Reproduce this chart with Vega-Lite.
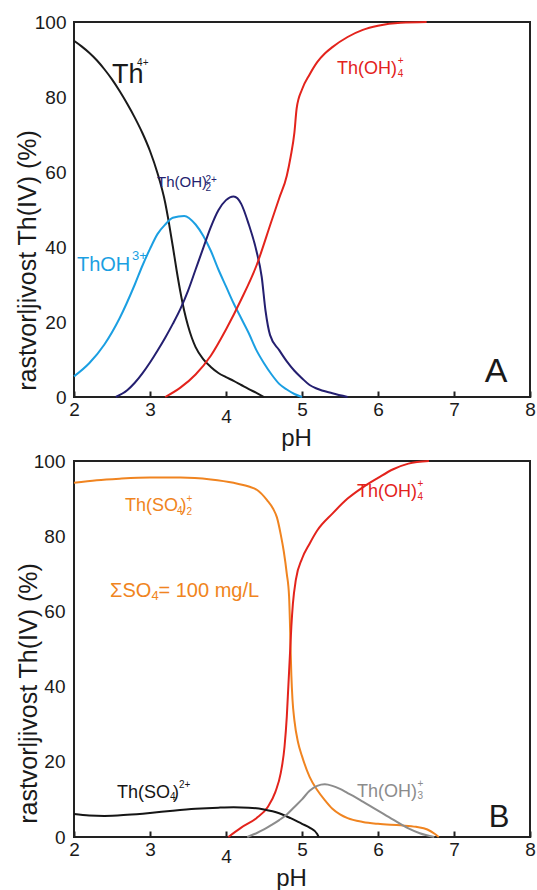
{
  "$schema": "https://vega.github.io/schema/vega-lite/v6.json",
  "background": "white",
  "padding": {"left": 14, "top": 12, "right": 4, "bottom": 0},
  "bounds": "flush",
  "spacing": 64,
  "resolve": {"scale": {"color": "independent"}},
  "config": {
    "font": "Liberation Sans",
    "view": {"stroke": "#222222", "strokeWidth": 2},
    "axis": {"domain": false, "grid": false, "labelFont": "Liberation Sans", "labelFontSize": 19, "labelColor": "#1a1a1a", "titleFont": "Liberation Sans", "titleFontWeight": "normal", "titleColor": "#1a1a1a", "labelFlush": false, "labelOverlap": false, "format": "d"},
    "text": {"font": "Liberation Sans", "align": "left", "baseline": "alphabetic"}
  },
  "datasets": {
    "linesA": [
      {"species": "Th4+", "pH": 2.0, "pct": 95}, {"species": "Th4+", "pH": 2.1, "pct": 93.5}, {"species": "Th4+", "pH": 2.2, "pct": 91.8}, {"species": "Th4+", "pH": 2.3, "pct": 89.8}, {"species": "Th4+", "pH": 2.4, "pct": 87.4}, {"species": "Th4+", "pH": 2.5, "pct": 84.7}, {"species": "Th4+", "pH": 2.6, "pct": 81.6}, {"species": "Th4+", "pH": 2.7, "pct": 78.2}, {"species": "Th4+", "pH": 2.8, "pct": 74.5}, {"species": "Th4+", "pH": 2.9, "pct": 70.4}, {"species": "Th4+", "pH": 3.0, "pct": 65.6}, {"species": "Th4+", "pH": 3.1, "pct": 59.6}, {"species": "Th4+", "pH": 3.2, "pct": 51.8}, {"species": "Th4+", "pH": 3.25, "pct": 46.3}, {"species": "Th4+", "pH": 3.3, "pct": 40.2}, {"species": "Th4+", "pH": 3.35, "pct": 33.8}, {"species": "Th4+", "pH": 3.4, "pct": 28}, {"species": "Th4+", "pH": 3.45, "pct": 23}, {"species": "Th4+", "pH": 3.5, "pct": 19}, {"species": "Th4+", "pH": 3.55, "pct": 15.8}, {"species": "Th4+", "pH": 3.6, "pct": 13.3}, {"species": "Th4+", "pH": 3.7, "pct": 10.1}, {"species": "Th4+", "pH": 3.8, "pct": 8}, {"species": "Th4+", "pH": 3.9, "pct": 6.4}, {"species": "Th4+", "pH": 4.0, "pct": 5.3}, {"species": "Th4+", "pH": 4.1, "pct": 4.3}, {"species": "Th4+", "pH": 4.2, "pct": 3.2}, {"species": "Th4+", "pH": 4.3, "pct": 2.1}, {"species": "Th4+", "pH": 4.4, "pct": 1.1}, {"species": "Th4+", "pH": 4.5, "pct": 0},
      {"species": "ThOH3+", "pH": 2.0, "pct": 5.5}, {"species": "ThOH3+", "pH": 2.2, "pct": 9}, {"species": "ThOH3+", "pH": 2.4, "pct": 14}, {"species": "ThOH3+", "pH": 2.6, "pct": 21}, {"species": "ThOH3+", "pH": 2.8, "pct": 30}, {"species": "ThOH3+", "pH": 2.9, "pct": 35}, {"species": "ThOH3+", "pH": 3.0, "pct": 39.5}, {"species": "ThOH3+", "pH": 3.1, "pct": 43.5}, {"species": "ThOH3+", "pH": 3.2, "pct": 46}, {"species": "ThOH3+", "pH": 3.3, "pct": 47.8}, {"species": "ThOH3+", "pH": 3.45, "pct": 48.3}, {"species": "ThOH3+", "pH": 3.6, "pct": 46}, {"species": "ThOH3+", "pH": 3.7, "pct": 43}, {"species": "ThOH3+", "pH": 3.8, "pct": 39}, {"species": "ThOH3+", "pH": 3.9, "pct": 34}, {"species": "ThOH3+", "pH": 4.0, "pct": 29.5}, {"species": "ThOH3+", "pH": 4.1, "pct": 25}, {"species": "ThOH3+", "pH": 4.2, "pct": 21}, {"species": "ThOH3+", "pH": 4.3, "pct": 17}, {"species": "ThOH3+", "pH": 4.4, "pct": 12.5}, {"species": "ThOH3+", "pH": 4.5, "pct": 9}, {"species": "ThOH3+", "pH": 4.6, "pct": 6}, {"species": "ThOH3+", "pH": 4.7, "pct": 3.5}, {"species": "ThOH3+", "pH": 4.8, "pct": 2}, {"species": "ThOH3+", "pH": 4.9, "pct": 0.8}, {"species": "ThOH3+", "pH": 5.0, "pct": 0},
      {"species": "Th(OH)2 2+", "pH": 2.55, "pct": 0}, {"species": "Th(OH)2 2+", "pH": 2.7, "pct": 1.8}, {"species": "Th(OH)2 2+", "pH": 2.8, "pct": 3.8}, {"species": "Th(OH)2 2+", "pH": 2.9, "pct": 6.3}, {"species": "Th(OH)2 2+", "pH": 3.0, "pct": 9.2}, {"species": "Th(OH)2 2+", "pH": 3.1, "pct": 12.4}, {"species": "Th(OH)2 2+", "pH": 3.2, "pct": 15.8}, {"species": "Th(OH)2 2+", "pH": 3.3, "pct": 19.5}, {"species": "Th(OH)2 2+", "pH": 3.4, "pct": 23.5}, {"species": "Th(OH)2 2+", "pH": 3.5, "pct": 28.3}, {"species": "Th(OH)2 2+", "pH": 3.6, "pct": 34}, {"species": "Th(OH)2 2+", "pH": 3.7, "pct": 39.7}, {"species": "Th(OH)2 2+", "pH": 3.8, "pct": 45.3}, {"species": "Th(OH)2 2+", "pH": 3.9, "pct": 49.8}, {"species": "Th(OH)2 2+", "pH": 4.0, "pct": 52.5}, {"species": "Th(OH)2 2+", "pH": 4.1, "pct": 53.5}, {"species": "Th(OH)2 2+", "pH": 4.15, "pct": 53}, {"species": "Th(OH)2 2+", "pH": 4.2, "pct": 51.5}, {"species": "Th(OH)2 2+", "pH": 4.3, "pct": 46}, {"species": "Th(OH)2 2+", "pH": 4.4, "pct": 39}, {"species": "Th(OH)2 2+", "pH": 4.47, "pct": 32}, {"species": "Th(OH)2 2+", "pH": 4.52, "pct": 23}, {"species": "Th(OH)2 2+", "pH": 4.58, "pct": 16.5}, {"species": "Th(OH)2 2+", "pH": 4.7, "pct": 12.5}, {"species": "Th(OH)2 2+", "pH": 4.8, "pct": 9.5}, {"species": "Th(OH)2 2+", "pH": 4.9, "pct": 7}, {"species": "Th(OH)2 2+", "pH": 5.0, "pct": 5}, {"species": "Th(OH)2 2+", "pH": 5.1, "pct": 3.2}, {"species": "Th(OH)2 2+", "pH": 5.2, "pct": 2.2}, {"species": "Th(OH)2 2+", "pH": 5.4, "pct": 1}, {"species": "Th(OH)2 2+", "pH": 5.6, "pct": 0},
      {"species": "Th(OH)4+", "pH": 3.2, "pct": 0}, {"species": "Th(OH)4+", "pH": 3.4, "pct": 2.5}, {"species": "Th(OH)4+", "pH": 3.6, "pct": 6}, {"species": "Th(OH)4+", "pH": 3.8, "pct": 11}, {"species": "Th(OH)4+", "pH": 4.0, "pct": 18}, {"species": "Th(OH)4+", "pH": 4.2, "pct": 26}, {"species": "Th(OH)4+", "pH": 4.4, "pct": 35}, {"species": "Th(OH)4+", "pH": 4.6, "pct": 47}, {"species": "Th(OH)4+", "pH": 4.7, "pct": 53}, {"species": "Th(OH)4+", "pH": 4.8, "pct": 59}, {"species": "Th(OH)4+", "pH": 4.85, "pct": 64}, {"species": "Th(OH)4+", "pH": 4.9, "pct": 70.5}, {"species": "Th(OH)4+", "pH": 4.93, "pct": 77}, {"species": "Th(OH)4+", "pH": 5.0, "pct": 82}, {"species": "Th(OH)4+", "pH": 5.1, "pct": 86}, {"species": "Th(OH)4+", "pH": 5.2, "pct": 89.3}, {"species": "Th(OH)4+", "pH": 5.3, "pct": 91.6}, {"species": "Th(OH)4+", "pH": 5.4, "pct": 93.3}, {"species": "Th(OH)4+", "pH": 5.6, "pct": 96}, {"species": "Th(OH)4+", "pH": 5.8, "pct": 97.9}, {"species": "Th(OH)4+", "pH": 6.0, "pct": 99}, {"species": "Th(OH)4+", "pH": 6.3, "pct": 99.8}, {"species": "Th(OH)4+", "pH": 6.64, "pct": 100}
    ],
    "labelsA": [
      {"species": "Th4+", "role": "big", "text": "Th", "pH": 2.5, "pct": 83.7},
      {"species": "Th4+", "role": "script", "text": "4+", "pH": 2.83, "pct": 88.3},
      {"species": "Th(OH)2 2+", "role": "narrow", "text": "Th(OH)", "pH": 3.092, "pct": 56.0},
      {"species": "Th(OH)2 2+", "role": "script", "text": "2+", "pH": 3.73, "pct": 57.1},
      {"species": "Th(OH)2 2+", "role": "script", "text": "2", "pH": 3.73, "pct": 55.0},
      {"species": "ThOH3+", "role": "mid", "text": "ThOH", "pH": 2.039, "pct": 33.6},
      {"species": "ThOH3+", "role": "scriptL", "text": "3+", "pH": 2.763, "pct": 36.5},
      {"species": "Th(OH)4+", "role": "ion", "text": "Th(OH)", "pH": 5.461, "pct": 86.1},
      {"species": "Th(OH)4+", "role": "script", "text": "+", "pH": 6.26, "pct": 88.8},
      {"species": "Th(OH)4+", "role": "script", "text": "4", "pH": 6.26, "pct": 85.3}
    ],
    "panelA": [{"text": "A", "pH": 7.553, "pct": 4.0}],
    "linesB": [
      {"species": "Th(SO4)2", "pH": 2.0, "pct": 94.2}, {"species": "Th(SO4)2", "pH": 2.3, "pct": 94.9}, {"species": "Th(SO4)2", "pH": 2.6, "pct": 95.3}, {"species": "Th(SO4)2", "pH": 3.0, "pct": 95.6}, {"species": "Th(SO4)2", "pH": 3.4, "pct": 95.6}, {"species": "Th(SO4)2", "pH": 3.8, "pct": 95.1}, {"species": "Th(SO4)2", "pH": 4.1, "pct": 94.2}, {"species": "Th(SO4)2", "pH": 4.3, "pct": 93.2}, {"species": "Th(SO4)2", "pH": 4.41, "pct": 92.3}, {"species": "Th(SO4)2", "pH": 4.54, "pct": 89.6}, {"species": "Th(SO4)2", "pH": 4.62, "pct": 87.3}, {"species": "Th(SO4)2", "pH": 4.67, "pct": 85}, {"species": "Th(SO4)2", "pH": 4.72, "pct": 80.5}, {"species": "Th(SO4)2", "pH": 4.76, "pct": 76}, {"species": "Th(SO4)2", "pH": 4.8, "pct": 70}, {"species": "Th(SO4)2", "pH": 4.83, "pct": 64}, {"species": "Th(SO4)2", "pH": 4.84, "pct": 58}, {"species": "Th(SO4)2", "pH": 4.85, "pct": 50}, {"species": "Th(SO4)2", "pH": 4.86, "pct": 43}, {"species": "Th(SO4)2", "pH": 4.875, "pct": 36.5}, {"species": "Th(SO4)2", "pH": 4.9, "pct": 31}, {"species": "Th(SO4)2", "pH": 4.95, "pct": 25}, {"species": "Th(SO4)2", "pH": 5.0, "pct": 21.5}, {"species": "Th(SO4)2", "pH": 5.1, "pct": 16}, {"species": "Th(SO4)2", "pH": 5.2, "pct": 12.5}, {"species": "Th(SO4)2", "pH": 5.3, "pct": 9.8}, {"species": "Th(SO4)2", "pH": 5.4, "pct": 7.5}, {"species": "Th(SO4)2", "pH": 5.5, "pct": 6}, {"species": "Th(SO4)2", "pH": 5.6, "pct": 5}, {"species": "Th(SO4)2", "pH": 5.8, "pct": 4}, {"species": "Th(SO4)2", "pH": 6.0, "pct": 3.5}, {"species": "Th(SO4)2", "pH": 6.3, "pct": 3.1}, {"species": "Th(SO4)2", "pH": 6.5, "pct": 2.7}, {"species": "Th(SO4)2", "pH": 6.65, "pct": 2}, {"species": "Th(SO4)2", "pH": 6.75, "pct": 0.8}, {"species": "Th(SO4)2", "pH": 6.8, "pct": 0},
      {"species": "Th(OH)4+", "pH": 4.03, "pct": 0}, {"species": "Th(OH)4+", "pH": 4.2, "pct": 2.5}, {"species": "Th(OH)4+", "pH": 4.4, "pct": 5}, {"species": "Th(OH)4+", "pH": 4.55, "pct": 8}, {"species": "Th(OH)4+", "pH": 4.65, "pct": 12}, {"species": "Th(OH)4+", "pH": 4.72, "pct": 17}, {"species": "Th(OH)4+", "pH": 4.77, "pct": 24}, {"species": "Th(OH)4+", "pH": 4.8, "pct": 32}, {"species": "Th(OH)4+", "pH": 4.82, "pct": 40}, {"species": "Th(OH)4+", "pH": 4.84, "pct": 48}, {"species": "Th(OH)4+", "pH": 4.86, "pct": 56}, {"species": "Th(OH)4+", "pH": 4.88, "pct": 62}, {"species": "Th(OH)4+", "pH": 4.92, "pct": 68.5}, {"species": "Th(OH)4+", "pH": 5.0, "pct": 74}, {"species": "Th(OH)4+", "pH": 5.1, "pct": 78}, {"species": "Th(OH)4+", "pH": 5.2, "pct": 81.5}, {"species": "Th(OH)4+", "pH": 5.4, "pct": 86}, {"species": "Th(OH)4+", "pH": 5.6, "pct": 90}, {"species": "Th(OH)4+", "pH": 5.8, "pct": 93}, {"species": "Th(OH)4+", "pH": 6.0, "pct": 95.5}, {"species": "Th(OH)4+", "pH": 6.2, "pct": 97.8}, {"species": "Th(OH)4+", "pH": 6.4, "pct": 99.3}, {"species": "Th(OH)4+", "pH": 6.67, "pct": 100},
      {"species": "ThSO4 2+", "pH": 2.0, "pct": 6.1}, {"species": "ThSO4 2+", "pH": 2.2, "pct": 5.7}, {"species": "ThSO4 2+", "pH": 2.4, "pct": 5.6}, {"species": "ThSO4 2+", "pH": 2.7, "pct": 5.9}, {"species": "ThSO4 2+", "pH": 3.0, "pct": 6.4}, {"species": "ThSO4 2+", "pH": 3.3, "pct": 7}, {"species": "ThSO4 2+", "pH": 3.6, "pct": 7.5}, {"species": "ThSO4 2+", "pH": 3.9, "pct": 7.8}, {"species": "ThSO4 2+", "pH": 4.1, "pct": 7.9}, {"species": "ThSO4 2+", "pH": 4.3, "pct": 7.8}, {"species": "ThSO4 2+", "pH": 4.5, "pct": 7.3}, {"species": "ThSO4 2+", "pH": 4.7, "pct": 6.3}, {"species": "ThSO4 2+", "pH": 4.85, "pct": 5}, {"species": "ThSO4 2+", "pH": 5.0, "pct": 3.5}, {"species": "ThSO4 2+", "pH": 5.1, "pct": 2.5}, {"species": "ThSO4 2+", "pH": 5.2, "pct": 0.8}, {"species": "ThSO4 2+", "pH": 5.22, "pct": 0},
      {"species": "Th(OH)3+", "pH": 4.28, "pct": 0}, {"species": "Th(OH)3+", "pH": 4.4, "pct": 1}, {"species": "Th(OH)3+", "pH": 4.5, "pct": 2}, {"species": "Th(OH)3+", "pH": 4.6, "pct": 3.2}, {"species": "Th(OH)3+", "pH": 4.7, "pct": 4.5}, {"species": "Th(OH)3+", "pH": 4.8, "pct": 6}, {"species": "Th(OH)3+", "pH": 4.9, "pct": 8}, {"species": "Th(OH)3+", "pH": 5.0, "pct": 10}, {"species": "Th(OH)3+", "pH": 5.1, "pct": 12.3}, {"species": "Th(OH)3+", "pH": 5.2, "pct": 13.6}, {"species": "Th(OH)3+", "pH": 5.3, "pct": 14}, {"species": "Th(OH)3+", "pH": 5.4, "pct": 13.6}, {"species": "Th(OH)3+", "pH": 5.5, "pct": 12.8}, {"species": "Th(OH)3+", "pH": 5.6, "pct": 11.7}, {"species": "Th(OH)3+", "pH": 5.7, "pct": 10.6}, {"species": "Th(OH)3+", "pH": 5.8, "pct": 9.4}, {"species": "Th(OH)3+", "pH": 5.9, "pct": 8.2}, {"species": "Th(OH)3+", "pH": 6.0, "pct": 7}, {"species": "Th(OH)3+", "pH": 6.2, "pct": 4.6}, {"species": "Th(OH)3+", "pH": 6.4, "pct": 2.3}, {"species": "Th(OH)3+", "pH": 6.55, "pct": 1}, {"species": "Th(OH)3+", "pH": 6.74, "pct": 0}
    ],
    "labelsB": [
      {"species": "Th(SO4)2", "role": "ion", "text": "Th(SO", "pH": 2.671, "pct": 86.7},
      {"species": "Th(SO4)2", "role": "script", "text": "4", "pH": 3.355, "pct": 85.9},
      {"species": "Th(SO4)2", "role": "ion", "text": ")", "pH": 3.40, "pct": 86.7},
      {"species": "Th(SO4)2", "role": "script", "text": "+", "pH": 3.48, "pct": 89.1},
      {"species": "Th(SO4)2", "role": "script", "text": "2", "pH": 3.48, "pct": 85.6},
      {"species": "Th(SO4)2", "role": "mid", "text": "ΣSO", "pH": 2.474, "pct": 63.8},
      {"species": "Th(SO4)2", "role": "scriptL", "text": "4", "pH": 3.02, "pct": 63.0},
      {"species": "Th(SO4)2", "role": "mid", "text": "= 100 mg/L", "pH": 3.112, "pct": 63.8},
      {"species": "Th(OH)4+", "role": "ion", "text": "Th(OH)", "pH": 5.724, "pct": 90.4},
      {"species": "Th(OH)4+", "role": "script", "text": "+", "pH": 6.52, "pct": 93.1},
      {"species": "Th(OH)4+", "role": "script", "text": "4", "pH": 6.52, "pct": 89.6},
      {"species": "ThSO4 2+", "role": "ion", "text": "Th(SO", "pH": 2.566, "pct": 10.37},
      {"species": "ThSO4 2+", "role": "script", "text": "4", "pH": 3.263, "pct": 9.84},
      {"species": "ThSO4 2+", "role": "ion", "text": ")", "pH": 3.303, "pct": 10.37},
      {"species": "ThSO4 2+", "role": "script", "text": "2+", "pH": 3.382, "pct": 13.03},
      {"species": "Th(OH)3+", "role": "ion", "text": "Th(OH)", "pH": 5.724, "pct": 10.64},
      {"species": "Th(OH)3+", "role": "script", "text": "+", "pH": 6.52, "pct": 13.3},
      {"species": "Th(OH)3+", "role": "script", "text": "3", "pH": 6.52, "pct": 10.0}
    ],
    "panelB": [{"text": "B", "pH": 7.592, "pct": 2.66}]
  },
  "vconcat": [
    {
      "width": 456,
      "height": 375,
      "layer": [
        {
          "data": {"name": "linesA"},
          "mark": {"type": "line", "strokeWidth": 2, "interpolate": "monotone"},
          "encoding": {
            "x": {"field": "pH", "type": "quantitative", "scale": {"domain": [2, 8], "nice": false, "zero": false},
              "axis": {"values": [2, 3, 4, 5, 6, 7, 8], "title": "pH", "titleFontSize": 24, "tickSize": -6, "tickWidth": 2, "tickColor": "#222222", "labelPadding": {"condition": {"test": "datum.value === 4", "value": 16}, "value": 9}, "titleX": 222, "titleY": 48, "titleAlign": "center", "titleBaseline": "alphabetic"}},
            "y": {"field": "pct", "type": "quantitative", "scale": {"domain": [0, 100], "nice": false},
              "axis": {"values": [0, 20, 40, 60, 80, 100], "title": "rastvorljivost Th(IV) (%)", "titleFontSize": 25, "ticks": false, "labelPadding": 8, "titleX": -47, "titleY": 238, "titleAngle": -90, "titleAlign": "center", "titleBaseline": "middle"}},
            "color": {"field": "species", "type": "nominal", "legend": null,
              "scale": {"domain": ["Th4+", "ThOH3+", "Th(OH)2 2+", "Th(OH)4+"], "range": ["#1a1a1a", "#1b9fe2", "#241f70", "#e3231c"]}}
          }
        },
        {"data": {"name": "labelsA"}, "transform": [{"filter": "datum.role === 'ion'"}], "mark": {"type": "text", "fontSize": 18}, "encoding": {"x": {"field": "pH", "type": "quantitative"}, "y": {"field": "pct", "type": "quantitative"}, "text": {"field": "text"}, "color": {"field": "species", "type": "nominal", "legend": null}}},
        {"data": {"name": "labelsA"}, "transform": [{"filter": "datum.role === 'narrow'"}], "mark": {"type": "text", "fontSize": 15}, "encoding": {"x": {"field": "pH", "type": "quantitative"}, "y": {"field": "pct", "type": "quantitative"}, "text": {"field": "text"}, "color": {"field": "species", "type": "nominal", "legend": null}}},
        {"data": {"name": "labelsA"}, "transform": [{"filter": "datum.role === 'mid'"}], "mark": {"type": "text", "fontSize": 20}, "encoding": {"x": {"field": "pH", "type": "quantitative"}, "y": {"field": "pct", "type": "quantitative"}, "text": {"field": "text"}, "color": {"field": "species", "type": "nominal", "legend": null}}},
        {"data": {"name": "labelsA"}, "transform": [{"filter": "datum.role === 'big'"}], "mark": {"type": "text", "fontSize": 27}, "encoding": {"x": {"field": "pH", "type": "quantitative"}, "y": {"field": "pct", "type": "quantitative"}, "text": {"field": "text"}, "color": {"field": "species", "type": "nominal", "legend": null}}},
        {"data": {"name": "labelsA"}, "transform": [{"filter": "datum.role === 'script'"}], "mark": {"type": "text", "fontSize": 10}, "encoding": {"x": {"field": "pH", "type": "quantitative"}, "y": {"field": "pct", "type": "quantitative"}, "text": {"field": "text"}, "color": {"field": "species", "type": "nominal", "legend": null}}},
        {"data": {"name": "labelsA"}, "transform": [{"filter": "datum.role === 'scriptL'"}], "mark": {"type": "text", "fontSize": 13}, "encoding": {"x": {"field": "pH", "type": "quantitative"}, "y": {"field": "pct", "type": "quantitative"}, "text": {"field": "text"}, "color": {"field": "species", "type": "nominal", "legend": null}}},
        {"data": {"name": "panelA"}, "mark": {"type": "text", "fontSize": 34, "align": "center", "color": "#1a1a1a"}, "encoding": {"x": {"field": "pH", "type": "quantitative"}, "y": {"field": "pct", "type": "quantitative"}, "text": {"field": "text"}}}
      ]
    },
    {
      "width": 456,
      "height": 376,
      "layer": [
        {
          "data": {"name": "linesB"},
          "mark": {"type": "line", "strokeWidth": 2, "interpolate": "monotone"},
          "encoding": {
            "x": {"field": "pH", "type": "quantitative", "scale": {"domain": [2, 8], "nice": false, "zero": false},
              "axis": {"values": [2, 3, 4, 5, 6, 7, 8], "title": "pH", "titleFontSize": 24, "tickSize": -6, "tickWidth": 2, "tickColor": "#222222", "labelPadding": {"condition": {"test": "datum.value === 4", "value": 16}, "value": 9}, "titleX": 217, "titleY": 48, "titleAlign": "center", "titleBaseline": "alphabetic"}},
            "y": {"field": "pct", "type": "quantitative", "scale": {"domain": [0, 100], "nice": false},
              "axis": {"values": [0, 20, 40, 60, 80, 100], "title": "rastvorljivost Th(IV) (%)", "titleFontSize": 25, "ticks": false, "labelPadding": 9, "titleX": -46, "titleY": 232, "titleAngle": -90, "titleAlign": "center", "titleBaseline": "middle"}},
            "color": {"field": "species", "type": "nominal", "legend": null,
              "scale": {"domain": ["Th(SO4)2", "ThSO4 2+", "Th(OH)4+", "Th(OH)3+"], "range": ["#f08420", "#151515", "#e3231c", "#8c8c8c"]}}
          }
        },
        {"data": {"name": "labelsB"}, "transform": [{"filter": "datum.role === 'ion'"}], "mark": {"type": "text", "fontSize": 18}, "encoding": {"x": {"field": "pH", "type": "quantitative"}, "y": {"field": "pct", "type": "quantitative"}, "text": {"field": "text"}, "color": {"field": "species", "type": "nominal", "legend": null}}},
        {"data": {"name": "labelsB"}, "transform": [{"filter": "datum.role === 'mid'"}], "mark": {"type": "text", "fontSize": 20}, "encoding": {"x": {"field": "pH", "type": "quantitative"}, "y": {"field": "pct", "type": "quantitative"}, "text": {"field": "text"}, "color": {"field": "species", "type": "nominal", "legend": null}}},
        {"data": {"name": "labelsB"}, "transform": [{"filter": "datum.role === 'script'"}], "mark": {"type": "text", "fontSize": 10}, "encoding": {"x": {"field": "pH", "type": "quantitative"}, "y": {"field": "pct", "type": "quantitative"}, "text": {"field": "text"}, "color": {"field": "species", "type": "nominal", "legend": null}}},
        {"data": {"name": "labelsB"}, "transform": [{"filter": "datum.role === 'scriptL'"}], "mark": {"type": "text", "fontSize": 13}, "encoding": {"x": {"field": "pH", "type": "quantitative"}, "y": {"field": "pct", "type": "quantitative"}, "text": {"field": "text"}, "color": {"field": "species", "type": "nominal", "legend": null}}},
        {"data": {"name": "panelB"}, "mark": {"type": "text", "fontSize": 31, "align": "center", "color": "#1a1a1a"}, "encoding": {"x": {"field": "pH", "type": "quantitative"}, "y": {"field": "pct", "type": "quantitative"}, "text": {"field": "text"}}}
      ]
    }
  ]
}
